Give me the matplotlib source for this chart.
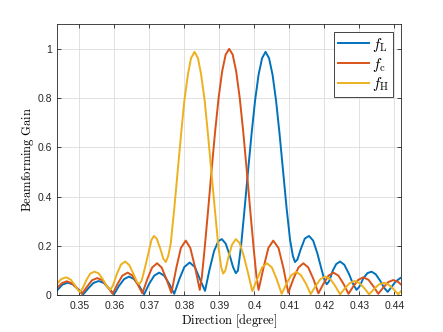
import numpy as np
import matplotlib
matplotlib.use("Agg")
import matplotlib.pyplot as plt

# ======================================================
# Data (direction in degree, gain)
# ======================================================

# f_L (blue)
x_low = [0.3435, 0.3452, 0.3467, 0.3482, 0.3496, 0.3511,
         0.3526, 0.3540, 0.3555, 0.3570, 0.3584, 0.3599,
         0.3613, 0.3628, 0.3642, 0.3656, 0.3671, 0.3685,
         0.3699, 0.3714, 0.3728, 0.3742, 0.3757, 0.3771,
         0.3786, 0.3800, 0.3815, 0.3830, 0.3844, 0.3859,
         0.3872, 0.3885, 0.3897, 0.3907, 0.3918, 0.3929, 0.3939, 0.3947, 0.3953,
         0.3962, 0.3972, 0.3982, 0.3992, 0.4002, 0.4012, 0.4022, 0.4032,
         0.4042, 0.4052, 0.4062, 0.4072, 0.4082, 0.4092, 0.4102, 0.4110, 0.4116, 0.4123,
         0.4132, 0.4144, 0.4156, 0.4168, 0.4180, 0.4192, 0.4201, 0.4207, 0.4214,
         0.4224, 0.4234, 0.4245, 0.4257, 0.4270, 0.4282, 0.4292, 0.4300,
         0.4311, 0.4323, 0.4335, 0.4347, 0.4360, 0.4371, 0.4381, 0.4390,
         0.4403, 0.4415, 0.4422]
g_low = [0.018, 0.044, 0.051, 0.044, 0.026, 0.004,
         0.029, 0.050, 0.058, 0.050, 0.029, 0.004,
         0.038, 0.066, 0.076, 0.066, 0.038, 0.004,
         0.046, 0.080, 0.092, 0.080, 0.046, 0.006,
         0.067, 0.115, 0.133, 0.115, 0.067, 0.018,
         0.105, 0.180, 0.220, 0.228, 0.210, 0.165, 0.115, 0.090, 0.100,
         0.200, 0.350, 0.505, 0.655, 0.790, 0.895, 0.962, 0.988,
         0.962, 0.895, 0.790, 0.655, 0.505, 0.355, 0.225, 0.160, 0.135, 0.145,
         0.185, 0.230, 0.241, 0.222, 0.170, 0.105, 0.058, 0.045, 0.058,
         0.100, 0.127, 0.137, 0.124, 0.088, 0.046, 0.022, 0.035,
         0.068, 0.090, 0.096, 0.085, 0.058, 0.030, 0.014, 0.030,
         0.055, 0.068, 0.074]

# f_c (red)
x_mid = [0.3435, 0.3450, 0.3464, 0.3478, 0.3493, 0.3507,
         0.3522, 0.3536, 0.3551, 0.3566, 0.3580, 0.3595,
         0.3609, 0.3623, 0.3638, 0.3652, 0.3666, 0.3680,
         0.3694, 0.3708, 0.3722, 0.3735, 0.3749, 0.3763,
         0.3777, 0.3790, 0.3804, 0.3817, 0.3831, 0.3844,
         0.3850, 0.3858, 0.3868, 0.3878, 0.3888, 0.3898, 0.3908, 0.3918, 0.3928,
         0.3938, 0.3948, 0.3958, 0.3968, 0.3978, 0.3988, 0.3998, 0.4006, 0.4012,
         0.4026, 0.4040, 0.4054, 0.4069, 0.4083, 0.4097,
         0.4111, 0.4126, 0.4140, 0.4154, 0.4169, 0.4183,
         0.4197, 0.4212, 0.4226, 0.4240, 0.4255, 0.4269,
         0.4283, 0.4297, 0.4311, 0.4326, 0.4340, 0.4354,
         0.4368, 0.4383, 0.4397, 0.4411, 0.4422]
g_mid = [0.029, 0.049, 0.057, 0.049, 0.029, 0.006,
         0.035, 0.061, 0.070, 0.061, 0.035, 0.006,
         0.046, 0.080, 0.092, 0.080, 0.046, 0.008,
         0.065, 0.113, 0.130, 0.113, 0.065, 0.010,
         0.111, 0.192, 0.222, 0.192, 0.111, 0.022,
         0.076, 0.191, 0.348, 0.511, 0.667, 0.803, 0.909, 0.977, 1.000,
         0.977, 0.909, 0.803, 0.667, 0.511, 0.348, 0.191, 0.076, 0.022,
         0.111, 0.192, 0.222, 0.192, 0.111, 0.010,
         0.065, 0.113, 0.130, 0.113, 0.065, 0.008,
         0.046, 0.080, 0.092, 0.080, 0.046, 0.006,
         0.037, 0.063, 0.073, 0.063, 0.037, 0.006,
         0.031, 0.054, 0.062, 0.054, 0.040]

# f_H (yellow)
x_high = [0.3435, 0.3448, 0.3462, 0.3475, 0.3488, 0.3496, 0.3502, 0.3510,
          0.3520, 0.3531, 0.3543, 0.3555, 0.3567, 0.3578, 0.3588, 0.3596,
          0.3608, 0.3619, 0.3631, 0.3643, 0.3655, 0.3665, 0.3671, 0.3678,
          0.3688, 0.3698, 0.3706, 0.3713, 0.3721, 0.3731, 0.3740, 0.3747, 0.3754,
          0.3761, 0.3771, 0.3781, 0.3791, 0.3800, 0.3810, 0.3819, 0.3829,
          0.3839, 0.3848, 0.3858, 0.3867, 0.3877, 0.3887, 0.3897, 0.3905, 0.3911, 0.3917,
          0.3925, 0.3936, 0.3947, 0.3958, 0.3970, 0.3982, 0.3994,
          0.4008, 0.4022, 0.4036, 0.4050, 0.4064, 0.4078,
          0.4092, 0.4106, 0.4120, 0.4133, 0.4147, 0.4161,
          0.4175, 0.4189, 0.4203, 0.4217, 0.4231, 0.4245,
          0.4259, 0.4273, 0.4287, 0.4300, 0.4314, 0.4328,
          0.4342, 0.4356, 0.4370, 0.4383, 0.4397, 0.4411, 0.4422]
g_high = [0.045, 0.066, 0.073, 0.064, 0.040, 0.022, 0.014, 0.030,
          0.062, 0.088, 0.096, 0.089, 0.065, 0.038, 0.022, 0.040,
          0.090, 0.125, 0.137, 0.122, 0.085, 0.053, 0.045, 0.060,
          0.115, 0.175, 0.225, 0.241, 0.230, 0.190, 0.148, 0.135, 0.160,
          0.210, 0.350, 0.505, 0.660, 0.790, 0.895, 0.962, 0.988,
          0.962, 0.895, 0.790, 0.660, 0.505, 0.350, 0.200, 0.115, 0.088, 0.100,
          0.150, 0.205, 0.228, 0.212, 0.158, 0.090, 0.017,
          0.065, 0.113, 0.130, 0.113, 0.065, 0.006,
          0.048, 0.082, 0.095, 0.082, 0.048, 0.005,
          0.038, 0.066, 0.076, 0.066, 0.038, 0.004,
          0.029, 0.050, 0.058, 0.050, 0.029, 0.004,
          0.026, 0.044, 0.051, 0.044, 0.026, 0.004, 0.022]

labels = [r"$f_{\mathrm{L}}$", r"$f_{\mathrm{c}}$", r"$f_{\mathrm{H}}$"]
colors = ["#0072BD", "#D95319", "#EDB120"]

x_ticks = [0.35, 0.36, 0.37, 0.38, 0.39, 0.40, 0.41, 0.42, 0.43, 0.44]
y_ticks = [0, 0.2, 0.4, 0.6, 0.8, 1.0]

# ======================================================
# Plot
# ======================================================

plt.rcParams["mathtext.fontset"] = "cm"
plt.rcParams["font.family"] = ["Liberation Sans", "DejaVu Sans"]

fig = plt.figure(figsize=(4.43, 3.32), dpi=100)
ax = fig.add_axes([0.1294, 0.1105, 0.9052 - 0.1294, 0.927 - 0.1105])

series = [(x_low, g_low), (x_mid, g_mid), (x_high, g_high)]
for (xs, ys), lab, col in zip(series, labels, colors):
    ax.plot(xs, ys, color=col, lw=1.4, label=lab)

ax.set_xlim(0.3437, 0.4419)
ax.set_ylim(0, 1.1)
ax.set_xticks(x_ticks)
ax.set_xticklabels([f"{t:g}" for t in x_ticks])
ax.set_yticks(y_ticks)
ax.set_yticklabels([f"{t:g}" for t in y_ticks])

ax.grid(True, color="#dcdcdc", lw=0.6)
ax.set_axisbelow(True)
ax.tick_params(direction="in", length=3, width=0.6, top=True, right=True,
               labelsize=7.5, colors="#262626", pad=4)
for s in ax.spines.values():
    s.set_color("#262626")
    s.set_linewidth(0.6)

ax.set_xlabel(r"$\mathrm{Direction\ [degree]}$", fontsize=9, labelpad=1)
ax.set_ylabel(r"$\mathrm{Beamforming\ Gain}$", fontsize=9, labelpad=1)

leg = ax.legend(loc="upper right", fontsize=11, handlelength=2.0,
                fancybox=False, framealpha=1, edgecolor="#262626",
                borderaxespad=0.5, labelspacing=0.12, handletextpad=0.25,
                borderpad=0.25)
leg.get_frame().set_linewidth(0.6)

fig.savefig("out.png", dpi=100)
